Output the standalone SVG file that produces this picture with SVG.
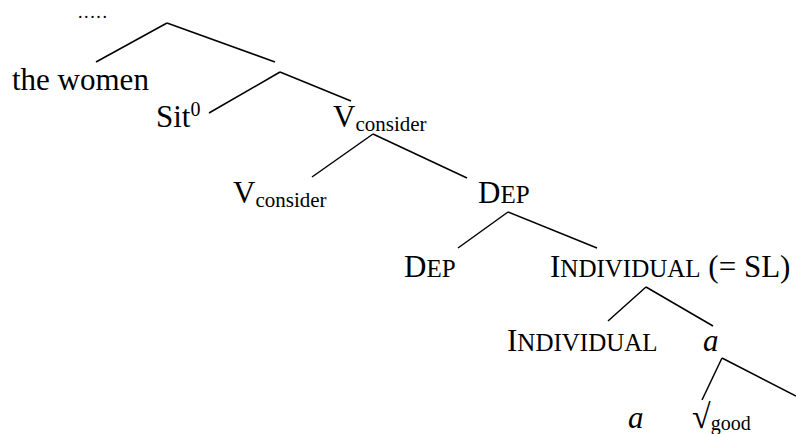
<svg xmlns="http://www.w3.org/2000/svg" width="796" height="434" viewBox="0 0 796 434">
<style>
text{font-family:"Liberation Serif","Times New Roman",serif;font-size:31px;fill:#000}
.sc{font-size:25px}
.sub{font-size:21px}
.it{font-style:italic}
.edges line{stroke:#000;stroke-width:1.5;stroke-linecap:butt}
</style>
<rect width="796" height="434" fill="#fff"/>
<g id="edges" class="edges">
<line x1="167" y1="23" x2="96" y2="62"/>
<line x1="167" y1="23" x2="275" y2="62"/>
<line x1="280" y1="72" x2="209" y2="113"/>
<line x1="280" y1="72" x2="351" y2="101"/>
<line x1="373" y1="134" x2="312" y2="177"/>
<line x1="373" y1="134" x2="467" y2="178"/>
<line x1="508" y1="212" x2="458" y2="248"/>
<line x1="508" y1="212" x2="597" y2="248"/>
<line x1="646" y1="287" x2="608" y2="321"/>
<line x1="646" y1="287" x2="713" y2="326"/>
<line x1="722" y1="358" x2="702" y2="400"/>
<line x1="722" y1="358" x2="796" y2="396"/>
</g>
<g id="n-dots"><text x="78" y="18" style="font-size:18px;letter-spacing:1.6px">.....</text></g>
<g id="n-thewomen"><text x="12" y="90">the women</text></g>
<g id="n-sit"><text x="156" y="127">Sit<tspan dy="-11" style="font-size:20px">0</tspan></text></g>
<g id="n-vconsider1"><text x="333" y="127">V<tspan class="sub" dy="4">consider</tspan></text></g>
<g id="n-vconsider2"><text x="233" y="203">V<tspan class="sub" dy="4">consider</tspan></text></g>
<g id="n-dep1"><text x="478" y="203">D<tspan class="sc">EP</tspan></text></g>
<g id="n-dep2"><text x="404" y="277">D<tspan class="sc">EP</tspan></text></g>
<g id="n-individual-sl"><text x="550" y="277">I<tspan class="sc">NDIVIDUAL</tspan> (= SL)</text></g>
<g id="n-individual"><text x="507" y="351">I<tspan class="sc">NDIVIDUAL</tspan></text></g>
<g id="n-a1"><text x="703" y="351" class="it">a</text></g>
<g id="n-a2"><text x="628" y="428" class="it">a</text></g>
<g id="n-root"><text x="692" y="428"><tspan style="font-size:34px">√</tspan><tspan dy="2" style="font-size:20px">good</tspan></text></g>
</svg>
